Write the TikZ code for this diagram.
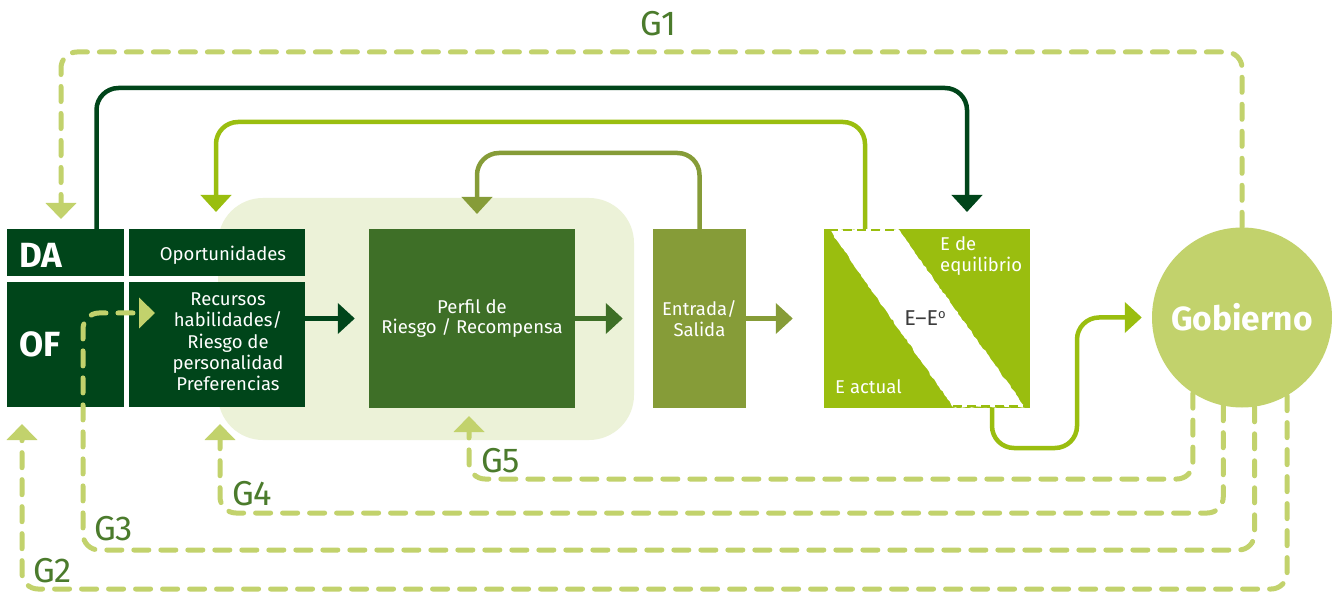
\documentclass[tikz,border=0pt]{standalone}
\usepackage{fontspec}
\setmainfont{Fira Sans}
\usetikzlibrary{arrows.meta,decorations.pathmorphing,calc}
\definecolor{dkg}{HTML}{00451A}
\definecolor{pfg}{HTML}{3E6F27}
\definecolor{olv}{HTML}{869C38}
\definecolor{eg}{HTML}{9ABE0F}
\definecolor{gobc}{HTML}{C2D26C}
\definecolor{bgl}{HTML}{ECF2D8}
\definecolor{lbl}{HTML}{4B7B2C}
\definecolor{egray}{HTML}{3C3C3C}
\begin{document}
\begin{tikzpicture}[x=1pt,y=-1pt,
  box/.style={fill=#1, inner sep=0pt, text=white, align=center, font=\fontsize{18.5}{20.5}\selectfont},
  txt/.style={text=white, align=center, inner sep=0pt, font=\fontsize{18.5}{21.3}\selectfont},
  big/.style={text=white, inner sep=0pt, anchor=base west, font=\bfseries\fontsize{35}{35}\selectfont},
  arrowtip/.style={-{Triangle[width=30pt,length=17pt]}},
  solidln/.style={line width=4.5pt, draw=#1, arrowtip, rounded corners=22pt},
  gdash/.style={line width=5pt, draw=gobc, line cap=round, dash pattern=on 15pt off 12pt, rounded corners=16pt, -{Triangle[width=30pt,length=16pt]}},
  glabel/.style={text=lbl, font=\fontsize{34.5}{34.5}\selectfont, anchor=base west, inner sep=0pt}
]
\useasboundingbox (0,0) rectangle (1332,593);
\fill[white] (0,0) rectangle (1332,593);
% background panel
\fill[bgl, rounded corners=45pt] (218,198) rectangle (634,440);
% boxes
\node[box=dkg, minimum width=117pt, minimum height=47pt] (da) at (65.5,252.5) {};
\node[big] (dalbl) at (19,268) {DA};
\node[box=dkg, minimum width=117pt, minimum height=125pt] (of) at (65.5,344.5) {};
\node[big] (oflbl) at (19,356) {OF};
\node[box=dkg, minimum width=176pt, minimum height=47pt] (opo) at (217,252.5) {};
\node[txt, anchor=base] (opotxt) at (223,261) {Oportunidades};
\node[box=dkg, minimum width=176pt, minimum height=125pt] (rec) at (217,344.5) {};
\node[txt] (rectxt) at (228,342) {Recursos\\habilidades/\\Riesgo de\\personalidad\\Preferencias};
\node[box=pfg, minimum width=206pt, minimum height=179pt] (perf) at (472,318.5) {Perfil de\\Riesgo / Recompensa};
\node[box=olv, minimum width=93pt, minimum height=179pt] (entr) at (699.5,318.5) {Entrada/\\Salida};
\node[box=eg, minimum width=206pt, minimum height=179pt] (ebox) at (927,318.5) {};
% white stripe
\fill[white, decorate, decoration={random steps, segment length=3pt, amplitude=0.7pt}]
  (829,229) -- (898,229) -- (1025,407) -- (953,407) -- cycle;
\draw[eg, line width=2.5pt, dash pattern=on 9pt off 5pt] (829,230) -- (898,230);
\draw[eg, line width=2.5pt, dash pattern=on 9pt off 5pt] (953,406) -- (1025,406);
\node[text=egray, inner sep=0pt, anchor=base, font=\fontsize{21.5}{21.5}\selectfont] (ee) at (925,325) {E–E\raisebox{6.5pt}{\fontsize{13}{13}\selectfont o}};
\node[text=white, inner sep=0pt, anchor=base west, font=\fontsize{18.5}{21}\selectfont] (eeq) at (940,251) {E de};
\node[text=white, inner sep=0pt, anchor=base west, font=\fontsize{18.5}{21}\selectfont] (eeq2) at (940,272) {equilibrio};
\node[text=white, inner sep=0pt, anchor=base west, font=\fontsize{18.5}{21}\selectfont] (eact) at (835,393) {E actual};
% Gobierno
\node[circle, fill=gobc, minimum size=180pt, inner sep=0pt, text=white, font=\bfseries\fontsize{33.5}{33.5}\selectfont] (gob) at (1242,317.5) {Gobierno};
% arrow tip coordinates
\coordinate (t1) at (967,212);
\coordinate (t2) at (216,212);
\coordinate (t3) at (477,214);
\coordinate (g1tip) at (61,219);
\coordinate (g2tip) at (22,424);
\coordinate (g3tip) at (155,313);
\coordinate (g4tip) at (220,424);
\coordinate (g5tip) at (469,416);
% solid connectors
\draw[solidln=dkg] ([xshift=31pt]da.north) |- (t1 |- 0,88) -- (t1);
\draw[solidln=eg] ([xshift=-62pt]ebox.north) |- (t2 |- 0,122) -- (t2);
\draw[solidln=olv] (entr.north) |- (t3 |- 0,153) -- (t3);
\draw[solidln=eg] ([xshift=65pt]ebox.south) |- (1077,448) |- ([xshift=-10pt]gob.west);
\draw[solidln=dkg] (rec.east |- perf.east) -- ([xshift=-14pt]perf.west);
\draw[solidln=pfg] (perf.east) -- ([xshift=-30pt]entr.west);
\draw[solidln=olv] (entr.east) -- ([xshift=-31pt]ebox.west);
% dashed feedback loops
\draw[gdash] (gob.north) |- (g1tip |- 0,52) -- (g1tip);
\draw[gdash] (gob.300) |- (g2tip |- 0,589) -- (g2tip);
\draw[gdash] (gob.278) |- (83,550) |- (g3tip);
\draw[gdash] (gob.258) |- (g4tip |- 0,513) -- (g4tip);
\draw[gdash] (gob.237) |- (g5tip |- 0,479) -- (g5tip);
% labels
\node[glabel] (lg1) at (640,36) {G1};
\node[glabel] (lg2) at (33,582) {G2};
\node[glabel] (lg3) at (94,540) {G3};
\node[glabel] (lg4) at (232,505) {G4};
\node[glabel] (lg5) at (481,472) {G5};
\end{tikzpicture}
\end{document}
